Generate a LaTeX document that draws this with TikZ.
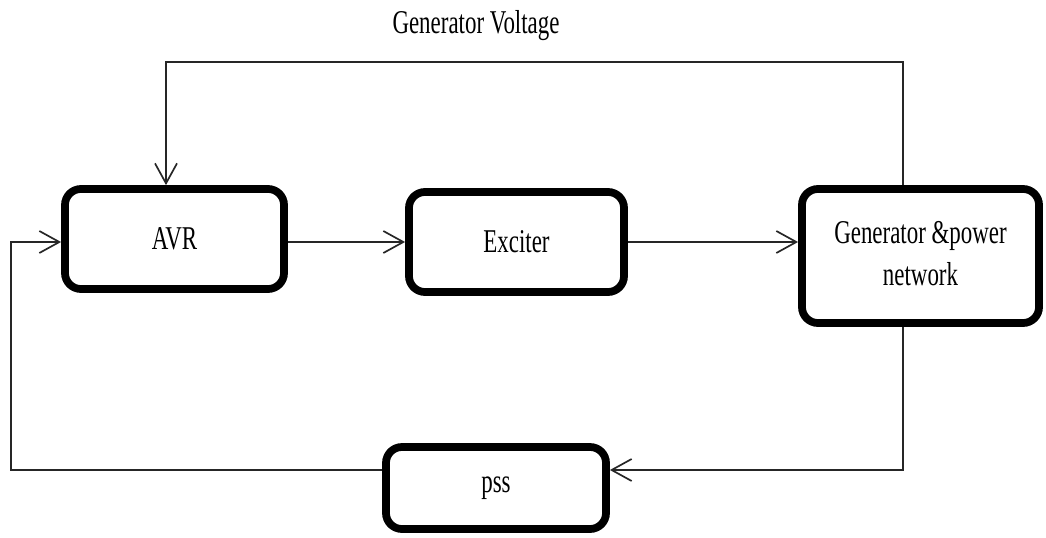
\documentclass[tikz,border=0pt]{standalone}
\usepackage{fontspec}
\setmainfont{Liberation Serif}
\usetikzlibrary{arrows.meta, positioning, calc}
\newcommand{\tallt}[1]{\scalebox{1}[1.45]{#1}}

\begin{document}
\begin{tikzpicture}[x=0.025cm, y=-0.025cm,
  block/.style={rectangle, rounded corners=0.4cm, draw=black, line width=5.5pt, fill=white, align=center, font=\fontsize{16.3}{20.6}\selectfont},
  line/.style={draw=black!85, line width=1.2pt},
  arrow/.style={line, -{Straight Barb[length=0.5cm, width=0.55cm, line width=1.2pt]}}
]
\useasboundingbox (0,0) rectangle (1046,538);
\node[block, minimum width=5.475cm, minimum height=2.5cm] (avr) at (174.5,239) {\tallt{AVR}};
\node[block, minimum width=5.375cm, minimum height=2.5cm] (exc) at (516.5,242) {\tallt{Exciter}};
\node[block, minimum width=5.925cm, minimum height=3.35cm] (gen) at (920.5,256) {\tallt{\begin{tabular}{@{}c@{}}Generator \&power\\network\end{tabular}}};
\node[block, minimum width=5.5cm, minimum height=2.05cm] (pss) at (496,488) {\tallt{pss}};
% feedback label
\node[font=\fontsize{16.3}{20}\selectfont] (vlabel) at (476,26) {\tallt{Generator Voltage}};
% corners of the loops
\coordinate (fbR) at (903,62);
\coordinate (fbL) at (166,62);
\coordinate (lpR) at (903,470);
\coordinate (lpL) at (11,470);
\coordinate (lpU) at (11,242);
\draw[arrow] (exc.west -| avr.east) -- (exc.west);
\draw[arrow] (exc.east) -- (exc.east -| gen.west);
\draw[arrow] (gen.north -| fbR) -- (fbR) -- (fbL) -- (fbL |- avr.north);
\draw[arrow] (gen.south -| lpR) -- (lpR) -- (lpR -| pss.east);
\draw[arrow] (lpL -| pss.west) -- (lpL) -- (lpU) -- (lpU -| avr.west);
\end{tikzpicture}
\end{document}
